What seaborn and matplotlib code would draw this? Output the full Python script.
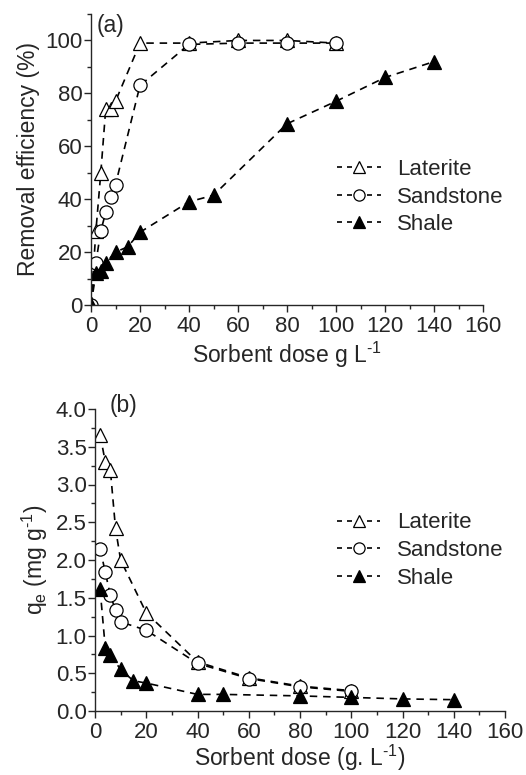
import numpy as np
import pandas as pd
import seaborn as sns
import matplotlib
matplotlib.use("Agg")
import matplotlib.pyplot as plt
from matplotlib.ticker import MultipleLocator, FormatStrFormatter

# panel (a): removal efficiency (%)
lat_dose_a = [0, 2, 4, 6, 8, 10, 20, 40, 60, 80, 100]
lat_rem = [0, 28, 50, 74, 74, 77, 99, 99, 100, 100, 99]
san_dose_a = [0, 2, 4, 6, 8, 10, 20, 40, 60, 80, 100]
san_rem = [0, 16, 28, 35, 41, 45.5, 83, 98.5, 99, 99, 99]
sha_dose_a = [0, 2, 4, 6, 10, 15, 20, 40, 50, 80, 100, 120, 140]
sha_rem = [0, 12, 13, 16, 20, 22, 27.5, 39, 41.5, 68.5, 77, 86, 92]

# panel (b): qe (mg g-1)
lat_dose_b = [2, 4, 6, 8, 10, 20, 40, 60, 80, 100]
lat_qe = [3.66, 3.30, 3.19, 2.42, 2.00, 1.30, 0.65, 0.44, 0.33, 0.27]
san_dose_b = [2, 4, 6, 8, 10, 20, 40, 60, 80, 100]
san_qe = [2.15, 1.84, 1.53, 1.34, 1.18, 1.07, 0.63, 0.43, 0.32, 0.26]
sha_dose_b = [2, 4, 6, 10, 15, 20, 40, 50, 80, 100, 120, 140]
sha_qe = [1.61, 0.84, 0.74, 0.55, 0.40, 0.37, 0.22, 0.22, 0.20, 0.18, 0.16, 0.15]

names = ["Laterite", "Sandstone", "Shale"]
markers = {"Laterite": ("^", "white"), "Sandstone": ("o", "white"), "Shale": ("^", "black")}

sns.set_style("ticks")
plt.rcParams['font.family'] = ['Liberation Sans', 'DejaVu Sans']
plt.rcParams['mathtext.fontset'] = 'custom'
plt.rcParams['mathtext.rm'] = 'Liberation Sans'
plt.rcParams['mathtext.it'] = 'Liberation Sans'

FS_TICK = 16
FS_LAB = 16.5
FS_LEG = 16

fig = plt.figure(figsize=(5.26, 7.75), dpi=100)
ax1 = fig.add_axes([91 / 526, 1 - 305 / 775, 392 / 526, 291 / 775])
ax2 = fig.add_axes([95 / 526, 1 - 711 / 775, 410 / 526, 302 / 775])


def draw(ax, data, leg_xy):
    for name, (x, y) in zip(names, data):
        m, fc = markers[name]
        df = pd.DataFrame({"dose": x, "val": y})
        sns.lineplot(data=df, x="dose", y="val", ax=ax, color="black",
                     linewidth=1.2, marker=m,
                     markersize=10.5 if m == "^" else 9.5,
                     markerfacecolor=fc, markeredgecolor="black",
                     markeredgewidth=0.9, label=name, estimator=None,
                     sort=False)
        ax.lines[-1].set_dashes([4.5, 3.5])
    leg = ax.legend(frameon=False, fontsize=FS_LEG, handlelength=1.95,
                    handletextpad=0.75, labelspacing=0.3, borderpad=0,
                    borderaxespad=0, loc="center left", bbox_to_anchor=leg_xy,
                    markerscale=0.85)
    for h in leg.legend_handles:
        h.set_dashes([3, 3])
    ax.set_xlim(0, 160)
    ax.xaxis.set_major_locator(MultipleLocator(20))
    ax.xaxis.set_minor_locator(MultipleLocator(10))
    ax.tick_params(which="major", direction="out", length=5, width=1,
                   labelsize=FS_TICK)
    ax.tick_params(axis="x", pad=3)
    ax.tick_params(axis="y", pad=1)
    ax.tick_params(which="minor", direction="out", length=3, width=1)
    sns.despine(ax=ax)
    for s in ["left", "bottom"]:
        ax.spines[s].set_linewidth(1)


draw(ax1, [(lat_dose_a, lat_rem), (san_dose_a, san_rem), (sha_dose_a, sha_rem)],
     (0.628, 0.371))
ax1.set_ylim(0, 110)
ax1.yaxis.set_major_locator(MultipleLocator(20))
ax1.yaxis.set_minor_locator(MultipleLocator(10))
ax1.set_xlabel("Sorbent dose g L$^{\\text{-}1}$", fontsize=FS_LAB, labelpad=2)
ax1.set_ylabel("Removal efficiency (%)", fontsize=FS_LAB, labelpad=4)
ax1.text(0.015, 1.0, "(a)", transform=ax1.transAxes, fontsize=FS_LAB, va="top")

draw(ax2, [(lat_dose_b, lat_qe), (san_dose_b, san_qe), (sha_dose_b, sha_qe)],
     (0.59, 0.531))
ax2.set_ylim(0, 4.0)
ax2.yaxis.set_major_locator(MultipleLocator(0.5))
ax2.yaxis.set_minor_locator(MultipleLocator(0.25))
ax2.yaxis.set_major_formatter(FormatStrFormatter("%.1f"))
ax2.set_xlabel("Sorbent dose (g. L$^{\\text{-}1}$)", fontsize=FS_LAB, labelpad=0)
ax2.set_ylabel("q$_\\mathrm{e}$ (mg g$^{\\text{-}1}$)", fontsize=FS_LAB, labelpad=4)
ax2.text(0.035, 1.01, "(b)", transform=ax2.transAxes, fontsize=FS_LAB, va="center")

fig.savefig("out.png", dpi=100)
